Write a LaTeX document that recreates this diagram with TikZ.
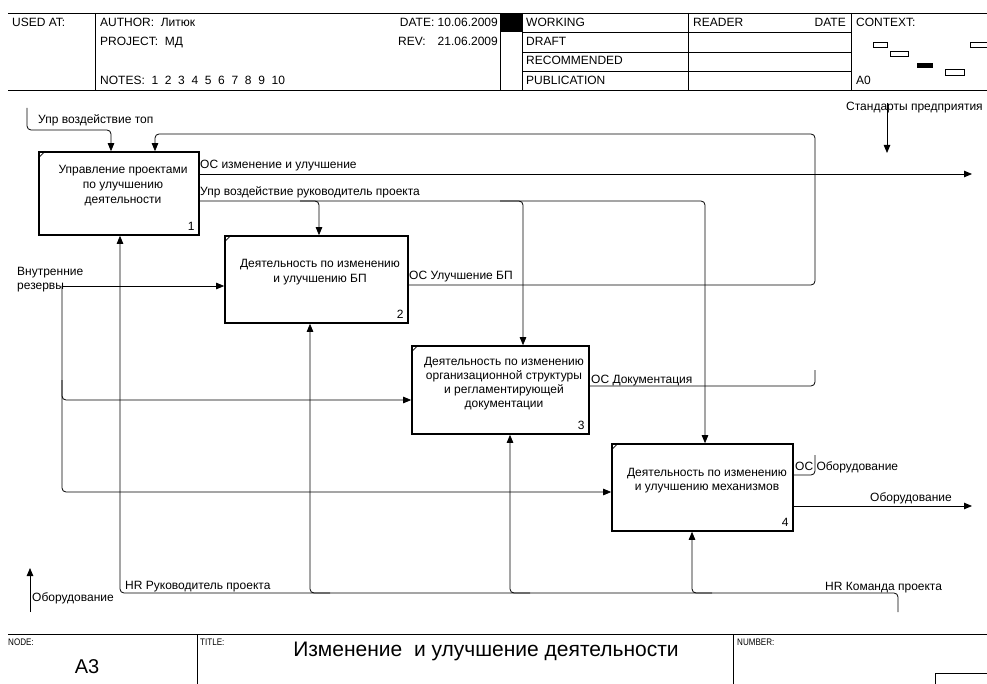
\documentclass[tikz,border=0pt]{standalone}
\usepackage{fontspec}
\setmainfont{Liberation Sans}
\usetikzlibrary{arrows.meta}
% centred multi-line block whose baseline is the first line
\newcommand{\ftext}[1]{\begin{tabular}[t]{@{}c@{}}#1\end{tabular}}
\begin{document}
\begin{tikzpicture}[x=1pt,y=-1pt,
  every node/.style={inner sep=0pt, font=\fontsize{12}{14}\selectfont},
  rule/.style={line width=0.8pt},
  func/.style={draw, line width=1.6pt, inner sep=0pt},
  conn/.style={line width=0.8pt, rounded corners=4pt},
  arr/.style={conn, -{Triangle[length=8pt,width=6.5pt]}},
  lbl/.style={anchor=base west},
  lblr/.style={anchor=base east},
  ftxt/.style={anchor=base, font=\fontsize{12}{14.2}\selectfont},
  small/.style={anchor=base west, font=\fontsize{9.5}{10}\selectfont},
]
\useasboundingbox (0,0) rectangle (987,684);

% ---------- header form ----------
\draw[rule] (8,13) -- (987,13);
\draw[rule] (8,90) -- (987,90);
\foreach \x in {95,500,522,688,851} \draw[rule] (\x,13) -- (\x,90);
\foreach \y in {32,52,71} \draw[rule] (522,\y) -- (851,\y);
\fill (500,13) rectangle (522,32);

\node[lbl] (usedat) at (12,26.5) {USED AT:};
\node[lbl] (author) at (100,26.5) {AUTHOR:~ Литюк};
\node[lbl] (project) at (100,46) {PROJECT:~ МД};
\node[lbl] (notes) at (100,84.5) {NOTES:~ 1~ 2~ 3~ 4~ 5~ 6~ 7~ 8~ 9~ 10};
\node[lblr] (date) at (498,26.5) {DATE: 10.06.2009};
\node[lbl] (rev) at (398,46) {REV:};
\node[lblr] (revdate) at (498,46) {21.06.2009};
\node[lbl] (working) at (526,26.5) {WORKING};
\node[lbl] (draft) at (526,46) {DRAFT};
\node[lbl] (recom) at (526,65) {RECOMMENDED};
\node[lbl] (publ) at (526,84.5) {PUBLICATION};
\node[lbl] (reader) at (693,26.5) {READER};
\node[lblr] (rdate) at (846,26.5) {DATE};
\node[lbl] (context) at (856,26.5) {CONTEXT:};
\node[lbl] (ctxnode) at (856,84.5) {A0};

% context thumbnail
\draw[line width=0.6pt] (873,42) rectangle (887,47);
\draw[line width=0.6pt] (890,51) rectangle (908,56);
\fill (917,63) rectangle (933,68);
\draw[line width=0.6pt] (945,69) rectangle (964,75);
\draw[line width=0.6pt] (970,42) rectangle (990,47);

% ---------- footer form ----------
\draw[rule] (8,634) -- (987,634);
\draw[rule] (197,634) -- (197,684);
\draw[rule] (733,634) -- (733,684);
\draw[rule] (935,684) -- (935,673) -- (987,673);
\node[small] (nodelbl) at (8,645) {\scalebox{0.85}[1]{NODE:}};
\node[small] (titlelbl) at (200,645) {\scalebox{0.85}[1]{TITLE:}};
\node[small] (numlbl) at (737,645) {\scalebox{0.85}[1]{NUMBER:}};
\node[anchor=base, font=\fontsize{21}{24}\selectfont] (title) at (486,656) {Изменение~ и улучшение деятельности};
\node[anchor=base, font=\fontsize{20}{24}\selectfont] (nodeid) at (87,673) {А3};

% ---------- activity boxes ----------
\node[func, minimum width=160pt, minimum height=83pt] (b1) at (119,193.5) {};
\node[func, minimum width=183pt, minimum height=87pt] (b2) at (316.5,279.5) {};
\node[func, minimum width=177pt, minimum height=88pt] (b3) at (500.5,390) {};
\node[func, minimum width=181pt, minimum height=87pt] (b4) at (702.5,487.5) {};
\foreach \b in {b1,b2,b3,b4}
  \draw[line width=0.8pt] ([yshift=-7pt]\b.north west) -- ([xshift=7pt]\b.north west);

\node[ftxt, font=\fontsize{12}{15}\selectfont] (t1) at (123,174) {\ftext{Управление проектами\\по улучшению\\деятельности}};
\node[ftxt] (t2) at (320,268) {\ftext{Деятельность по изменению\\и улучшению БП}};
\node[ftxt] (t3) at (504,365) {\ftext{Деятельность по изменению\\организационной структуры\\и регламентирующей\\документации}};
\node[ftxt] (t4) at (707,476) {\ftext{Деятельность по изменению\\и улучшению механизмов}};

\node[lblr] (n1) at ([xshift=-5pt,yshift=5pt]b1.south east) {1};
\node[lblr] (n2) at ([xshift=-5pt,yshift=5pt]b2.south east) {2};
\node[lblr] (n3) at ([xshift=-5pt,yshift=5pt]b3.south east) {3};
\node[lblr] (n4) at ([xshift=-5pt,yshift=5pt]b4.south east) {4};

% ---------- controls ----------
\coordinate (topsrc) at (27,108);
\draw[arr] (topsrc) -- (27,130) -- (111,130) -- (111,0 |- b1.north);

\draw[arr] (b1.east |- 0,201) -- (705,201) -- (705,0 |- b4.north);
\draw[arr] (300,201) -- (319,201) -- (319,0 |- b2.north);
\draw[arr] (500,201) -- (523,201) -- (523,0 |- b3.north);

\coordinate (stdsrc) at (887,103);
\coordinate (stddst) at (887,153);
\draw[arr] (stdsrc) -- (stddst);

% ---------- feedback of outputs ----------
\draw[arr] (b2.east |- 0,285) -- (815,285) -- (815,134) -- (155,134) -- (155,0 |- b1.north);
\draw[conn] (b3.east |- 0,386) -- (815,386) -- (815,370);
\draw[conn] (b4.east |- 0,475) -- (815,475) -- (815,455);

% ---------- outputs ----------
\coordinate (out1) at (972,174);
\draw[arr] (b1.east |- out1) -- (out1);
\coordinate (out4) at (972,506);
\draw[arr] (b4.east |- out4) -- (out4);

% ---------- inputs ----------
\coordinate (inres) at (62,286);
\draw[arr] (inres) -- (b2.west |- inres);
\draw[arr] (inres) -- (62,492) -- (b4.west |- 0,492);
\draw[arr] (62,380) -- (62,400) -- (b3.west |- 0,400);

% ---------- mechanisms ----------
\coordinate (hrsrc) at (898,612);
\draw[arr] (hrsrc) -- (898,593) -- (120,593) -- (120,0 |- b1.south);
\draw[arr] (330,593) -- (310,593) -- (310,0 |- b2.south);
\draw[arr] (530,593) -- (510,593) -- (510,0 |- b3.south);
\draw[arr] (712,593) -- (692,593) -- (692,0 |- b4.south);

\coordinate (eqsrc) at (30,612);
\coordinate (eqdst) at (30,568);
\draw[arr] (eqsrc) -- (eqdst);

% ---------- arrow labels ----------
\node[lbl] (l1) at (38,124) {Упр воздействие топ};
\node[lbl] (l2) at (200,169) {ОС изменение и улучшение};
\node[lbl] (l3) at (200,196) {Упр воздействие руководитель проекта};
\node[lbl] (l4) at (409,280) {ОС Улучшение БП};
\node[lbl] (l5) at (591,383) {ОС Документация};
\node[lbl] (l6) at (795,470) {ОС Оборудование};
\node[lblr] (l7) at (952,501) {Оборудование};
\node[lbl] (l8) at (825,590) {HR Команда проекта};
\node[lbl] (l9) at (125,589) {HR Руководитель проекта};
\node[lbl] (l10) at (32,601) {Оборудование};
\node[lbl] (l11) at (846,111) {Стандарты предприятия};
\node[lbl] (l12) at (17,276) {Внутренние};
\node[lbl] (l13) at (17,290) {резервы};
\end{tikzpicture}
\end{document}
